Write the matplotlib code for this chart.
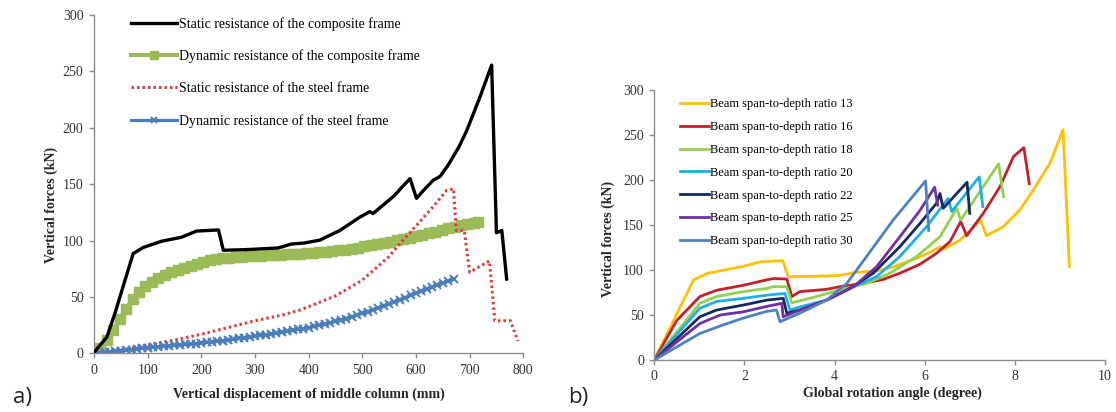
import matplotlib
matplotlib.use('Agg')
import matplotlib.pyplot as plt

# ---- panel a) : vertical force vs displacement of middle column ----
static_comp_x = [0, 2, 24, 39, 73, 92, 126, 163, 191, 232, 241, 281, 343, 368, 393,
                 421, 458, 496, 514, 520, 540, 560, 575, 589, 601, 615, 632, 645,
                 660, 680, 695, 719, 741, 750, 760, 769]
static_comp_y = [0, 2, 14.5, 35.5, 88.5, 94, 99.5, 103, 108.5, 109.5, 91.5, 92, 93.5,
                 97, 98, 100.5, 109, 121, 125.7, 124, 132, 140, 148, 155, 137.5, 145,
                 153.5, 157, 167, 183, 198, 227, 255.6, 107, 109, 66]

dyn_comp_x = [0, 12, 24, 36, 48, 60, 72, 84, 96, 108, 120, 132, 144, 156, 168, 180,
              192, 204, 216, 228, 240, 252, 264, 276, 288, 300, 312, 324, 336, 348,
              360, 372, 384, 396, 408, 420, 432, 444, 456, 468, 480, 492, 504, 516,
              528, 540, 552, 564, 576, 588, 600, 612, 624, 636, 648, 660, 672, 684,
              696, 708, 716]
dyn_comp_y = [0, 5, 12, 21, 30.5, 39.5, 48.5, 54.5, 60, 63.5, 66.5, 70, 72, 74, 76,
              77.5, 79, 81, 82.5, 83.5, 84.5, 85, 85.5, 85.8, 86.1, 86.4, 86.6, 86.9,
              87.2, 87.5, 87.8, 88.1, 88.5, 88.8, 89.2, 89.6, 90.1, 90.7, 91.3, 92,
              92.8, 93.8, 95, 96, 97, 98.1, 99.2, 100.4, 101.6, 102.8, 104, 105.2,
              106.5, 107.9, 109.3, 110.8, 112.2, 113.5, 114.8, 116, 116.7]

static_steel_x = [0, 50, 100, 150, 200, 250, 300, 350, 384, 400, 450, 500, 550, 570,
                  600, 630, 657, 670, 675, 690, 700, 737, 747, 776, 790]
static_steel_y = [0, 3, 7.5, 12, 17, 23, 29, 34, 38.6, 41.5, 51, 65, 86, 97.5, 113,
                  129, 144.5, 146, 109, 109, 72, 82, 29, 29, 11]

dyn_steel_x = [0, 10, 20, 30, 40, 50, 60, 70, 80, 90, 100, 110, 120, 130, 140, 150,
               160, 170, 180, 190, 200, 210, 220, 230, 240, 250, 260, 270, 280, 290,
               300, 310, 320, 330, 340, 350, 360, 370, 380, 390, 400, 410, 420, 430,
               440, 450, 460, 470, 480, 490, 500, 510, 520, 530, 540, 550, 560, 570,
               580, 590, 600, 610, 620, 630, 640, 650, 660, 670]
dyn_steel_y = [0, 0.5, 1, 1.5, 2, 2.5, 3, 3.5, 4, 4.5, 5, 5.5, 6, 6.4, 6.8, 7.2, 7.6,
               8, 8.4, 8.8, 9.3, 9.8, 10.3, 10.8, 11.4, 12, 12.6, 13.3, 14, 14.6,
               15.3, 16, 16.7, 17.4, 18.1, 18.9, 19.7, 20.5, 21.3, 22.1, 23, 24, 25,
               26, 27.2, 28.4, 29.7, 31, 32.5, 34, 35.6, 37.2, 38.9, 40.6, 42.4, 44.2,
               46, 47.8, 49.6, 51.4, 53.2, 55, 56.9, 58.8, 60.6, 62.4, 64.2, 66]

# ---- panel b) : vertical force vs global rotation angle ----
r13_x = [0, 0.87, 1.16, 1.6, 1.97, 2.34, 2.85, 2.97, 3.53, 4.12, 4.42, 4.93, 5.3,
         5.82, 6.19, 6.35, 6.41, 6.78, 7.24, 7.37, 7.74, 8.11, 8.41, 8.78, 9.07, 9.21]
r13_y = [0, 89, 96, 100.5, 104, 109, 110.5, 92.5, 93, 94, 97, 99, 103.5, 113, 121.5,
         126, 123, 133, 155.5, 138, 148, 166.5, 189, 218.5, 256, 104]
r16_x = [0, 0.5, 1.01, 1.38, 1.97, 2.49, 2.64, 2.94, 3.05, 3.23, 3.82, 4.12, 4.56,
         5.08, 5.45, 5.9, 6.26, 6.56, 6.8, 6.93, 7.3, 7.67, 7.97, 8.2, 8.32]
r16_y = [0, 44, 70.5, 77.5, 83, 89, 90.5, 90, 70.5, 76, 78.5, 81.5, 84.5, 89.5, 96.5,
         106.5, 118.5, 131.5, 154, 138, 163, 192.5, 226, 236, 196]
r18_x = [0, 1.01, 1.38, 1.97, 2.49, 2.64, 2.94, 3.05, 3.6, 4.12, 4.71, 5.23, 5.82,
         6.34, 6.71, 6.8, 7.64, 7.75]
r18_y = [0, 63, 70.5, 76, 79.5, 81.5, 81.5, 63.5, 70.5, 78, 85, 96.5, 115, 137,
         168.5, 155.5, 218, 181.5]
r20_x = [0, 1.01, 1.38, 1.97, 2.49, 2.9, 3.01, 3.23, 3.82, 4.42, 4.93, 5.45, 6.04,
         6.52, 6.6, 7.21, 7.29]
r20_y = [0, 57.5, 65, 68.5, 72, 74, 55.5, 59, 66.5, 81.5, 92.5, 115, 148, 179.5,
         165, 203.5, 170.5]
r22_x = [0, 1.01, 1.38, 1.97, 2.49, 2.86, 2.94, 3.23, 3.82, 4.34, 4.86, 5.45, 5.9,
         6.26, 6.34, 6.41, 6.94, 7.0]
r22_y = [0, 48, 55.5, 61, 66.5, 68.5, 52, 55.5, 66.5, 79.5, 96.5, 126, 152, 174,
         185, 168.5, 197.5, 163]
r25_x = [0, 1.01, 1.46, 1.97, 2.49, 2.83, 2.86, 3.23, 3.82, 4.42, 4.93, 5.45, 5.9,
         6.22, 6.29]
r25_y = [0, 40.5, 50, 53.5, 59.5, 63, 48, 55.5, 66.5, 81.5, 103.5, 137, 166.5,
         192, 172]
r30_x = [0, 1.01, 1.53, 1.97, 2.49, 2.71, 2.79, 3.23, 3.82, 4.27, 4.71, 5.3, 6.02,
         6.09]
r30_y = [0, 29.5, 39, 46.5, 54, 55.5, 42.5, 52, 66.5, 85, 115, 155.5, 199, 144]

ratio_labels = ['Beam span-to-depth ratio 13', 'Beam span-to-depth ratio 16',
                'Beam span-to-depth ratio 18', 'Beam span-to-depth ratio 20',
                'Beam span-to-depth ratio 22', 'Beam span-to-depth ratio 25',
                'Beam span-to-depth ratio 30']
ratio_colors = ['#FFC000', '#C3202B', '#92D050', '#1EAEEA', '#142A5C', '#7030A0', '#4F81BD']

SERIF = ['Liberation Serif', 'DejaVu Serif']
plt.rcParams['font.family'] = SERIF
plt.rcParams['axes.linewidth'] = 1.0

fig = plt.figure(figsize=(11.16, 4.12), dpi=100)
ax1 = fig.add_axes([0.0842, 0.1420, 0.3847, 0.8216])
ax2 = fig.add_axes([0.5863, 0.1262, 0.4038, 0.6553])


def style_axes(ax):
    for s in ['top', 'right']:
        ax.spines[s].set_visible(False)
    for s in ['left', 'bottom']:
        ax.spines[s].set_color('#8c8c8c')
    ax.tick_params(direction='out', length=3.5, width=1, color='#8c8c8c',
                   labelsize=10, labelcolor='#333333', pad=4)


# panel a
ax1.plot(static_comp_x, static_comp_y, color='black', lw=2.4,
         label='Static resistance of the composite frame', zorder=3)
ax1.plot(dyn_comp_x, dyn_comp_y, color='#9BBB59', lw=3, marker='s', ms=7,
         mec='#9BBB59', label='Dynamic resistance of the composite frame', zorder=2)
ax1.plot(static_steel_x, static_steel_y, color='#DD3B3B', lw=2.2,
         linestyle=(0, (0.8, 1.0)), label='Static resistance of the steel frame', zorder=2)
ax1.plot(dyn_steel_x, dyn_steel_y, color='#4A7EBB', lw=2.3, marker='x', ms=5.5,
         mew=1.4, label='Dynamic resistance of the steel frame', zorder=2)
ax1.set_xlim(0, 800)
ax1.set_ylim(0, 300)
ax1.set_xticks(range(0, 801, 100))
ax1.set_yticks(range(0, 301, 50))
style_axes(ax1)
ax1.set_xlabel('Vertical displacement of middle column (mm)', fontsize=10,
               fontweight='bold', color='#262626')
ax1.xaxis.set_label_coords(0.5, -0.1)
ax1.set_ylabel('Vertical forces (kN)', fontsize=10, fontweight='bold', color='#262626')
ax1.yaxis.set_label_coords(-0.083, 0.44)
ax1.legend(loc='upper left', bbox_to_anchor=(131 / 1116, 1 - 17 / 412),
           bbox_transform=fig.transFigure, frameon=False, fontsize=10,
           handlelength=3.3, handletextpad=0.15, labelspacing=1.35,
           borderpad=0, borderaxespad=0, numpoints=1, markerscale=0.75)

# panel b
ratio_x = [r13_x, r16_x, r18_x, r20_x, r22_x, r25_x, r30_x]
ratio_y = [r13_y, r16_y, r18_y, r20_y, r22_y, r25_y, r30_y]
for xs, ys, lab, col in zip(ratio_x, ratio_y, ratio_labels, ratio_colors):
    ax2.plot(xs, ys, color=col, lw=2, label=lab)
ax2.set_xlim(0, 10)
ax2.set_ylim(0, 300)
ax2.set_xticks(range(0, 11, 2))
ax2.set_yticks(range(0, 301, 50))
style_axes(ax2)
ax2.set_xlabel('Global rotation angle (degree)', fontsize=10, fontweight='bold',
               color='#262626')
ax2.xaxis.set_label_coords(0.528, -0.1)
ax2.set_ylabel('Vertical forces (kN)', fontsize=10, fontweight='bold', color='#262626')
ax2.yaxis.set_label_coords(-0.088, 0.45)
ax2.legend(loc='upper left', bbox_to_anchor=(680 / 1116, 1 - 98.5 / 412),
           bbox_transform=fig.transFigure, frameon=False, fontsize=9,
           handlelength=2.3, handletextpad=0.12, labelspacing=0.86,
           borderpad=0, borderaxespad=0)

fig.text(22 / 1116, 1 - 398 / 412, 'a)', fontsize=16, family='Open Sans',
         ha='center', va='center', color='#222222')
fig.text(578 / 1116, 1 - 397 / 412, 'b)', fontsize=16, family='Open Sans',
         ha='center', va='center', color='#222222')

fig.savefig('out.png', dpi=100)
